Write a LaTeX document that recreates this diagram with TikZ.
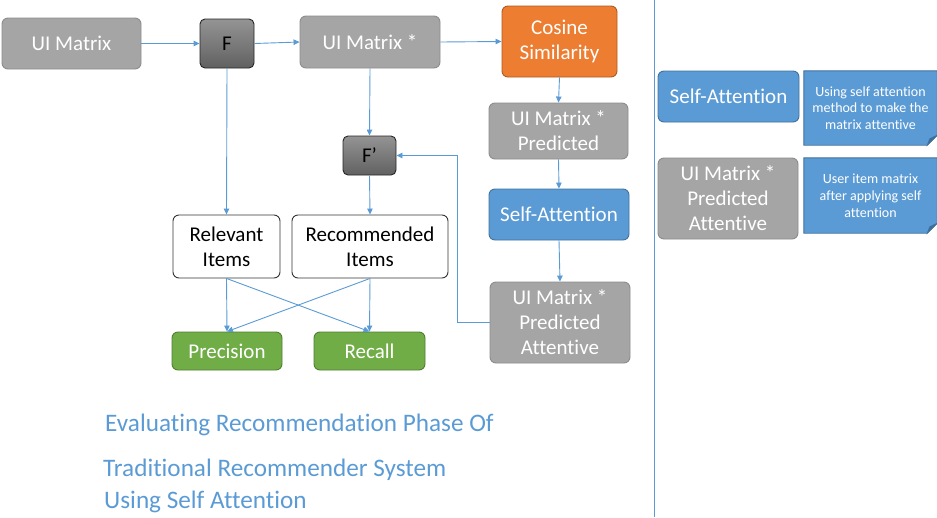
\documentclass[tikz,border=0pt]{standalone}
\usepackage{fontspec}
\setmainfont{Carlito}[Ligatures=NoCommon]
\usetikzlibrary{arrows.meta,backgrounds,calc}

\definecolor{boxgray}{HTML}{A5A5A5}
\definecolor{boxgrayline}{HTML}{8C8C8C}
\definecolor{accblue}{HTML}{5B9BD5}
\definecolor{accblueline}{HTML}{41719C}
\definecolor{accorange}{HTML}{ED7D31}
\definecolor{accorangeline}{HTML}{AE5A21}
\definecolor{accgreen}{HTML}{70AD47}
\definecolor{accgreenline}{HTML}{507E32}
\definecolor{foldblue}{HTML}{3B6E9C}

\tikzset{
  every node/.style={font=\fontsize{21}{25}\selectfont},
  basebox/.style={rectangle, rounded corners=6pt, line width=0.9pt, align=center, inner sep=2pt},
  graybox/.style={basebox, fill=boxgray, draw=boxgrayline, text=white},
  funcbox/.style={basebox, rounded corners=5pt, draw=black!85, top color=black!42, bottom color=black!62, text=black},
  orangebox/.style={basebox, fill=accorange, draw=accorangeline, text=white},
  bluebox/.style={basebox, fill=accblue, draw=accblueline, text=white},
  greenbox/.style={basebox, fill=accgreen, draw=accgreenline, text=white},
  whitebox/.style={basebox, fill=white, draw=black!80, text=black},
  notetext/.style={align=center, text=white, inner sep=2pt, font=\fontsize{14}{16.8}\selectfont},
  flow/.style={draw=accblue, line width=0.9pt, -{Triangle[length=6pt,width=5.5pt]}},
  title/.style={anchor=base west, text=accblue, inner sep=0pt, font=\fontsize{25.2}{30}\selectfont}
}

\begin{document}
\begin{tikzpicture}[x=1pt, y=-1pt]
\useasboundingbox (0,0) rectangle (937,517);

% flow chart
\node[graybox, minimum width=139pt, minimum height=51pt] (uim) at (71.5,43.5) {UI Matrix};
\node[funcbox, minimum width=54pt, minimum height=49pt] (F) at (227,43.5) {F};
\node[graybox, minimum width=140pt, minimum height=52pt] (uims) at (370,42) {UI Matrix *};
\node[orangebox, minimum width=115pt, minimum height=71pt] (cos) at (559.5,41.5) {Cosine\\Similarity};
\node[funcbox, minimum width=53pt, minimum height=39pt] (Fp) at (369.5,155.5) {F’};
\node[graybox, minimum width=139pt, minimum height=56pt] (pred) at (558.5,131) {UI Matrix *\\Predicted};
\node[bluebox, minimum width=140pt, minimum height=51pt] (sa) at (559,214.5) {Self-Attention};
\node[graybox, minimum width=140pt, minimum height=81pt] (att) at (560,322.5) {UI Matrix *\\Predicted\\Attentive};
\node[whitebox, minimum width=107pt, minimum height=63pt] (rel) at (226.5,246.5) {Relevant\\Items};
\node[whitebox, minimum width=156pt, minimum height=63pt] (rec) at (370,246.5) {Recommended\\Items};
\node[greenbox, minimum width=110pt, minimum height=38pt] (prec) at (227,351) {Precision};
\node[greenbox, minimum width=111pt, minimum height=38pt] (recall) at (369.5,351) {Recall};

\draw[flow] (uim.east) -- (F.west);
\draw[flow] (F.east) -- (uims.west);
\draw[flow] (uims.east) -- (cos.west);
\draw[flow] (F.south) -- (rel.north);
\draw[flow] (uims.south) -- (Fp.north);
\draw[flow] (Fp.south) -- (rec.north);
\draw[flow] (cos.south) -- (pred.north);
\draw[flow] (pred.south) -- (sa.north);
\draw[flow] (sa.south) -- (att.north);
\draw[flow] (att.west) -- ++(-32,0) |- (Fp.east);
\draw[flow] (rel.south) -- (prec.north);
\draw[flow] (rel.south) -- (recall.north);
\draw[flow] (rec.south) -- (recall.north);
\draw[flow] (rec.south) -- (prec.north);

% title
\node[title] (t1) at (105,431) {Evaluating Recommendation Phase Of};
\node[title] (t2) at (103,476) {Traditional Recommender System};
\node[title] (t3) at (104,508) {Using Self Attention};

% divider
\coordinate (dtop) at (654,0);
\coordinate (dbot) at (654,517);
\draw[accblue, line width=0.9pt] (dtop) -- (dbot);

% legend
\node[bluebox, minimum width=141pt, minimum height=51pt] (lsa) at (728.5,96.5) {Self-Attention};
\node[graybox, minimum width=140pt, minimum height=81pt] (latt) at (728,198.5) {UI Matrix *\\Predicted\\Attentive};
\node[notetext, minimum width=133pt, minimum height=74pt] (n1) at (870.5,108) {Using self attention\\method to make the\\matrix attentive};
\node[notetext, minimum width=133pt, minimum height=75pt] (n2) at (870.5,195.5) {User item matrix\\after applying self\\attention};

\begin{scope}[on background layer]
  \foreach \n in {n1,n2}{
    \filldraw[fill=accblue, draw=accblueline, line width=0.9pt]
      (\n.north west) -- (\n.north east) -- ($(\n.south east)+(0,-10)$)
      -- ($(\n.south east)+(-10,0)$) -- (\n.south west) -- cycle;
    \filldraw[fill=foldblue, draw=accblueline, line width=0.6pt]
      ($(\n.south east)+(0,-10)$) -- ($(\n.south east)+(-10,0)$) -- ($(\n.south east)+(-7.5,-6.5)$) -- cycle;
  }
\end{scope}
\end{tikzpicture}
\end{document}
